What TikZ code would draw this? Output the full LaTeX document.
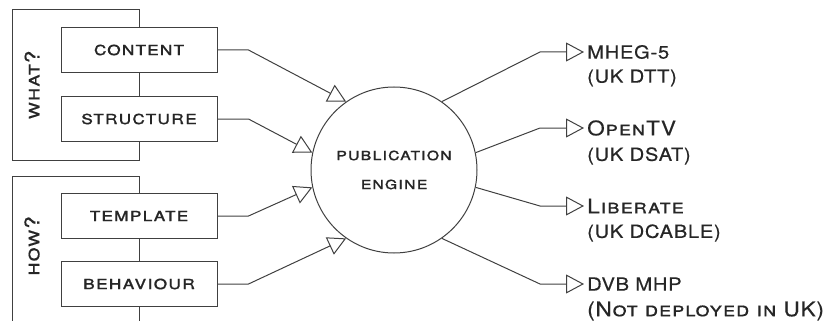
\documentclass[tikz,border=0pt]{standalone}
\usepackage{fontspec}
\setmainfont{TeX Gyre Heros}[FakeStretch=1.12,LetterSpace=4,FakeBold=0.4,SmallCapsFeatures={Scale=1.12}]
\usetikzlibrary{arrows.meta,positioning}

\begin{document}
\begin{tikzpicture}[x=1pt,y=-1pt]
 \tikzstyle{line} = [draw=black!75,line width=1pt];
 \tikzstyle{arrow} = [line,-{Triangle[open,length=18pt,width=19pt]}];
 \tikzstyle{box} = [line,minimum width=156pt,minimum height=45pt,node distance=69pt,font=\fontsize{17.5}{18}\selectfont\scshape,text=black!85];
 \tikzstyle{engine} = [circle,line,minimum size=166pt,align=center,font=\fontsize{16}{29}\selectfont\scshape,text=black!85];
 \tikzstyle{target} = [anchor=west,inner sep=3pt,font=\fontsize{18}{20}\selectfont,text=black!85];
 \tikzstyle{side} = [rotate=90,font=\fontsize{18}{18}\selectfont\scshape,text=black!85];

 \useasboundingbox (0,0) rectangle (836,321);

 % inputs
 \node[box,name=content] at (139,50) {content};
 \node[box,name=structure,below of=content] {structure};
 \node[box,name=template,below of=structure,node distance=97pt] {template};
 \node[box,name=behaviour,below of=template,node distance=68pt] {behaviour};

 \node[side,name=what] at (32,85) {what?};
 \node[side,name=how] at (32,246) {how?};

 \draw[line] (content.north) -- (content.north |- 0,10) -- (12,10) -- (12,160) -- (structure.south |- 0,160) -- (structure.south);
 \draw[line] (content.south) -- (structure.north);
 \draw[line] (template.north) -- (template.north |- 0,176) -- (12,176) -- (12,321);
 \draw[line] (template.south) -- (behaviour.north);
 \draw[line] (behaviour.south) -- (behaviour.south |- 0,321);

 \node[engine,name=pub] at (394,170) {publication\\engine};

 % outputs
 \node[target,name=mheg] at (584,52) {MHEG-5};
 \node[target,name=mhegsub] at (584,78) {(UK DTT)};
 \node[target,name=opentv] at (584,128) {\scshape OpenTV};
 \node[target,name=opentvsub] at (584,156) {(UK DSAT)};
 \node[target,name=liberate] at (584,206) {\scshape Liberate};
 \node[target,name=liberatesub] at (584,233) {(UK DCABLE)};
 \node[target,name=dvb] at (584,284) {DVB MHP};
 \node[target,name=dvbsub] at (584,311) {\scshape (Not deployed in UK)};

 \draw[arrow] (content.east) -- ++(31,0) -- (pub.125);
 \draw[arrow] (structure.east) -- ++(31,0) -- (pub.168);
 \draw[arrow] (template.east) -- ++(31,0) -- (pub.192);
 \draw[arrow] (behaviour.east) -- ++(31,0) -- (pub.235);

 \draw[arrow] (pub.55) -- ([xshift=-44pt]mheg.west) -- (mheg.west);
 \draw[arrow] (pub.12) -- ([xshift=-44pt]opentv.west) -- (opentv.west);
 \draw[arrow] (pub.-12) -- ([xshift=-44pt]liberate.west) -- (liberate.west);
 \draw[arrow] (pub.-55) -- ([xshift=-44pt]dvb.west) -- (dvb.west);
\end{tikzpicture}
\end{document}
